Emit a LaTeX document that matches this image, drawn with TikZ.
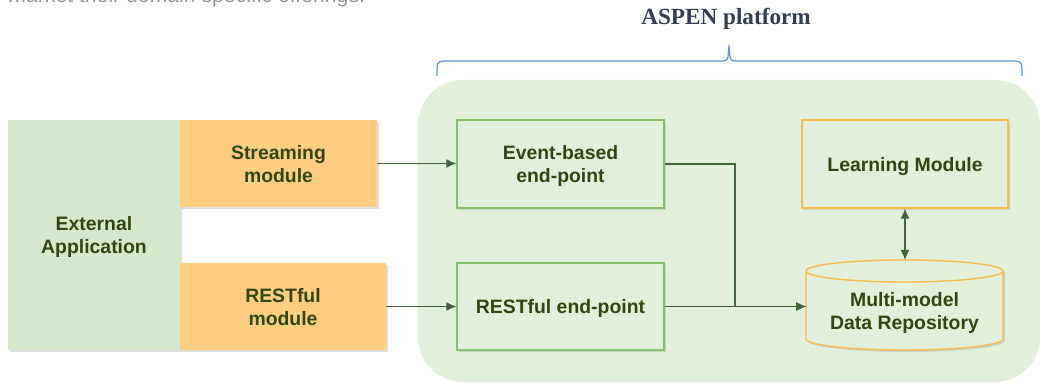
\documentclass[tikz,border=0pt]{standalone}
\usepackage{fontspec}
\setmainfont{Liberation Serif}
\setsansfont{Liberation Sans}
\usetikzlibrary{positioning,arrows.meta,shadows}
\definecolor{platformbg}{RGB}{226,239,218}
\definecolor{extbg}{RGB}{213,232,203}
\definecolor{modbg}{RGB}{255,206,128}
\definecolor{epline}{RGB}{130,194,108}
\definecolor{lmline}{RGB}{252,186,72}
\definecolor{txtgreen}{RGB}{52,70,16}
\definecolor{arrowgreen}{RGB}{66,100,58}
\definecolor{bracecol}{RGB}{95,150,215}
\definecolor{titlecol}{RGB}{51,63,80}
\definecolor{introgray}{RGB}{150,150,150}

\begin{document}
\begin{tikzpicture}[x=0.5pt,y=-0.5pt,>={Latex[length=5pt,width=4.5pt]},
  lbl/.style={font=\sffamily\bfseries\fontsize{9.7}{11.5}\selectfont,text=txtgreen,align=center,inner sep=0pt,text depth=0pt},
  softshadow/.style={drop shadow={opacity=0.25,shadow xshift=1pt,shadow yshift=-1pt}},
  module/.style={lbl,fill=modbg,softshadow},
  endpoint/.style={lbl,draw=epline,line width=0.7pt,fill=platformbg,softshadow},
  link/.style={->,draw=arrowgreen,line width=0.6pt}]
\useasboundingbox (0,0) rectangle (1042,383);

\node[anchor=base west,inner sep=0pt,text=introgray,font=\sffamily\fontsize{10.6}{12}\selectfont] (intro) at (8,3) {market their domain specific offerings.};
\node[anchor=base,inner sep=0pt,text=titlecol,font=\bfseries\fontsize{11.6}{14}\selectfont] (title) at (726,25) {ASPEN platform};
\draw[bracecol,line width=0.6pt] (437,76) .. controls (437,62) .. (444,61) -- (722,61) .. controls (728,61) .. (729,45) .. controls (730,61) .. (736,61) -- (1015,61) .. controls (1022,62) .. (1022,76);

\fill[platformbg,rounded corners=22.5pt] (418,80) rectangle (1040,382);

\node[lbl,fill=extbg,softshadow,minimum width=86pt,minimum height=115pt] (ext) at (94,235) {External\\Application};
\node[module,minimum width=98.5pt,minimum height=43.5pt] (stream) at (278.5,163.5) {Streaming\\module};
\node[module,minimum width=103pt,minimum height=43.5pt] (restmod) at (283,306.5) {RESTful\\module};

\node[endpoint,minimum width=103.5pt,minimum height=44pt] (event) at (560.5,164) {Event-based\\end-point};
\node[endpoint,minimum width=103.5pt,minimum height=43.5pt] (restep) at (560.5,306.5) {RESTful end-point};
\node[lbl,draw=lmline,line width=0.7pt,fill=platformbg,softshadow,minimum width=103pt,minimum height=44pt] (learn) at (905,164) {Learning Module};

\node[minimum width=98.5pt,minimum height=45pt,inner sep=0pt,outer sep=0pt] (repo) at (904.5,305) {};
\path[draw=lmline,line width=0.7pt,fill=platformbg,softshadow] (806,271) -- (806,339) arc[start angle=180,end angle=360,x radius=49.25pt,y radius=5.5pt] -- (1003,271) arc[start angle=0,end angle=180,x radius=49.25pt,y radius=5.5pt] -- cycle;
\draw[lmline,line width=0.7pt] (806,271) arc[start angle=180,end angle=360,x radius=49.25pt,y radius=5.5pt];
\node[lbl] (repotext) at (904.5,311) {Multi-model\\Data Repository};

\coordinate (join) at (735,306.5);
\draw[link] (stream.east) -- (stream.east -| event.west);
\draw[link] (restmod.east) -- (restmod.east -| restep.west);
\draw[link] (event.east) -| (join) -- (join -| repo.west);
\draw[link] (restep.east) -- (restep.east -| repo.west);
\draw[link,<->] (learn.south) -- (learn.south |- repo.north);
\end{tikzpicture}
\end{document}
